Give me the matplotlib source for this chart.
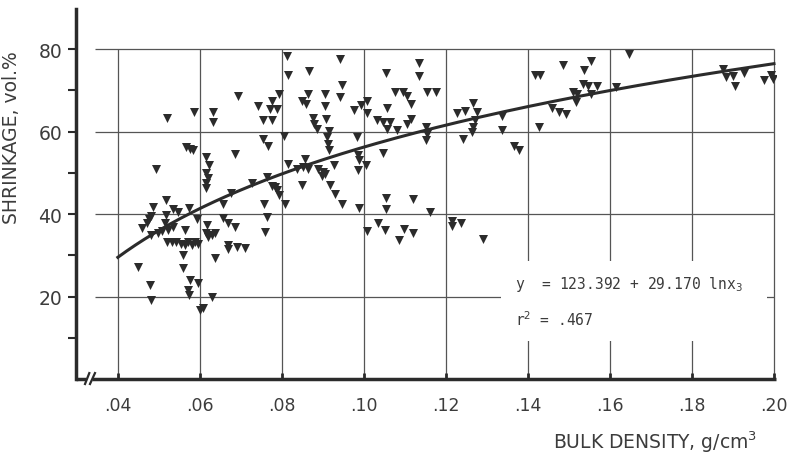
import numpy as np
import matplotlib.pyplot as plt
from matplotlib.patches import Rectangle

plt.rcParams['font.family'] = ['Liberation Sans Narrow', 'DejaVu Sans']
plt.rcParams['mathtext.fontset'] = 'dejavusans'

# bulk density (g/cm3) and shrinkage (vol.%)
density = [
    0.0450, 0.0478, 0.0480, 0.0458, 0.0470, 0.0476, 0.0482, 0.0485, 0.0482, 0.0498,
    0.0507, 0.0515, 0.0517, 0.0517, 0.0523, 0.0535, 0.0535, 0.0547, 0.0574, 0.0563,
    0.0519, 0.0531, 0.0543, 0.0555, 0.0563, 0.0571, 0.0580, 0.0588, 0.0596, 0.0559,
    0.0559, 0.0576, 0.0571, 0.0574, 0.0596, 0.0600, 0.0608, 0.0629, 0.0594, 0.0618,
    0.0616, 0.0629, 0.0637, 0.0620, 0.0637, 0.0669, 0.0690, 0.0710, 0.0669, 0.0657,
    0.0668, 0.0685, 0.0657, 0.0519, 0.0585, 0.0632, 0.0632, 0.0566, 0.0576, 0.0584,
    0.0493, 0.0616, 0.0623, 0.0615, 0.0620, 0.0615, 0.0615, 0.0685, 0.0677,
    0.0693, 0.0742, 0.0775, 0.0772, 0.0787, 0.0793, 0.0754, 0.0775, 0.0813, 0.0815,
    0.0866, 0.0848, 0.0860, 0.0864, 0.0875, 0.0878, 0.0885, 0.0806, 0.0753, 0.0765,
    0.0815, 0.0836, 0.0856, 0.0852, 0.0863, 0.0763, 0.0777, 0.0783, 0.0789, 0.0793,
    0.0848, 0.0726, 0.0756, 0.0807, 0.0764, 0.0759, 0.0905, 0.0905, 0.0907, 0.0915,
    0.0911, 0.0913, 0.0915, 0.0889, 0.0901, 0.0897, 0.0905, 0.0917, 0.0929, 0.0946,
    0.0943, 0.0946, 0.0943, 0.0976, 0.0994, 0.1007, 0.1007, 0.0984, 0.0986, 0.0989,
    0.1005, 0.0986, 0.0927, 0.1046, 0.1135, 0.1135, 0.1055, 0.1076, 0.1096, 0.1106,
    0.1116, 0.1153, 0.1176, 0.1057, 0.1032, 0.1046, 0.1063, 0.1057, 0.1080, 0.1104,
    0.1114, 0.1151, 0.1153, 0.1151, 0.0989, 0.1055, 0.1055, 0.1119, 0.1161, 0.1007,
    0.1035, 0.1051, 0.1098, 0.1086, 0.1120,
    0.1214, 0.1214, 0.1238, 0.1290, 0.1647, 0.1555, 0.1485, 0.1537, 0.1417, 0.1429,
    0.1535, 0.1547, 0.1568, 0.1511, 0.1519, 0.1555, 0.1615, 0.1517, 0.1458, 0.1476,
    0.1494, 0.1228, 0.1246, 0.1267, 0.1275, 0.1271, 0.1265, 0.1263, 0.1336, 0.1242,
    0.1338, 0.1428, 0.1366, 0.1379,
    0.1876, 0.1883, 0.1899, 0.1905, 0.1927, 0.1976, 0.1994, 0.1997,
]
shrinkage = [
    27.2, 22.7, 19.1, 36.5, 37.7, 38.7, 39.5, 41.7, 34.8, 35.3,
    35.8, 37.7, 39.7, 43.3, 36.1, 36.9, 41.3, 40.5, 41.5, 36.1,
    33.2, 33.1, 33.2, 32.8, 32.4, 33.2, 32.6, 33.1, 32.8, 30.0,
    26.8, 24.0, 21.5, 20.3, 23.2, 16.7, 17.1, 19.9, 38.7, 37.4,
    35.3, 35.0, 35.3, 34.5, 29.4, 32.4, 32.0, 31.8, 31.4, 39.1,
    37.9, 36.9, 42.5, 63.2, 64.8, 64.8, 62.3, 56.2, 55.8, 55.6,
    51.0, 53.8, 51.9, 50.0, 48.7, 47.4, 46.3, 54.6, 45.2,
    68.5, 66.3, 67.5, 65.5, 65.5, 69.1, 62.7, 62.7, 78.4, 73.6,
    74.6, 67.5, 66.7, 69.0, 63.3, 61.9, 60.7, 59.0, 58.2, 56.6,
    52.2, 51.0, 53.4, 51.4, 51.0, 49.0, 46.7, 46.5, 45.7, 44.5,
    47.0, 47.5, 42.5, 42.4, 39.3, 35.7, 69.0, 66.3, 63.1, 60.1,
    58.6, 57.0, 55.6, 51.0, 50.2, 49.1, 49.8, 47.0, 44.9, 42.5,
    77.5, 71.3, 68.4, 65.2, 66.4, 67.4, 64.4, 58.7, 54.3, 53.1,
    52.0, 50.7, 52.0, 54.7, 76.7, 73.5, 74.3, 69.6, 69.5, 68.7,
    66.6, 69.5, 69.5, 65.6, 62.8, 62.4, 62.4, 60.6, 60.4, 61.7,
    63.0, 61.2, 59.5, 57.9, 41.4, 44.0, 41.3, 43.7, 40.6, 35.8,
    37.8, 36.2, 36.4, 33.8, 35.4,
    38.4, 37.2, 37.8, 34.0, 78.7, 77.2, 76.1, 74.8, 73.7, 73.7,
    71.6, 71.1, 71.1, 69.6, 69.2, 69.1, 70.9, 67.2, 65.6, 64.8,
    64.2, 64.6, 65.0, 66.8, 64.8, 62.8, 61.0, 59.8, 63.8, 58.1,
    60.3, 61.2, 56.4, 55.5,
    75.1, 73.2, 73.5, 71.1, 74.1, 72.5, 73.6, 72.7,
]

# fitted curve printed on the chart: y = a + b ln(x)
fit_a = 123.392
fit_b = 29.170

x_ticks = [0.04, 0.06, 0.08, 0.10, 0.12, 0.14, 0.16, 0.18, 0.20]
x_tick_labels = ['.04', '.06', '.08', '.10', '.12', '.14', '.16', '.18', '.20']
y_ticks = [20, 40, 60, 80]
y_minor = [10, 30, 50, 70]

ink = '#2b2b2b'
text_col = '#3c3c3c'
grid_col = '#555555'

fig = plt.figure(figsize=(7.87, 4.56), dpi=100)
ax = fig.add_axes([76 / 787, 76 / 456, 700 / 787, 370 / 456])
ax.set_xlim(0.0298, 0.2005)
ax.set_ylim(0, 89.7)

# grid box
ax.hlines(y_ticks, 0.0344, 0.20, color=grid_col, lw=0.9, zorder=1)
ax.vlines(x_ticks, 0, 80, color=grid_col, lw=0.9, zorder=1)
# blank area behind the equation
ax.add_patch(Rectangle((0.1335, 9.3), 0.0647, 19.4, fc='white', ec='none', zorder=1.5))

xs = np.linspace(0.04, 0.20, 300)
ax.plot(xs, fit_a + fit_b * np.log(xs), color=ink, lw=2.2, zorder=3)
ax.scatter(density, shrinkage, marker='v', s=42, color=ink, linewidths=0, zorder=4)

mono = dict(family='DejaVu Sans Mono', fontsize=10.5, color=text_col, va='center')
ax.text(0.1368, 23.2, 'y  = 123.392 + 29.170 lnx$_3$', **mono)
ax.text(0.1368, 14.7, 'r$^2$ = .467', **mono)

# axes: thick left spine, broken bottom axis
for s in ['top', 'right', 'bottom']:
    ax.spines[s].set_visible(False)
ax.spines['left'].set_linewidth(2.5)
ax.spines['left'].set_color(ink)
ax.plot([0, 0.014], [0, 0], transform=ax.transAxes, color=ink, lw=2.5, clip_on=False,
        solid_capstyle='butt')
ax.plot([0.023, 1.0], [0, 0], transform=ax.transAxes, color=ink, lw=2.5, clip_on=False,
        solid_capstyle='butt')
ax.plot([0.0129, 0.0190], [-0.0135, 0.016], transform=ax.transAxes, color=ink, lw=1.6,
        clip_on=False)
ax.plot([0.0200, 0.0271], [-0.0135, 0.016], transform=ax.transAxes, color=ink, lw=1.6,
        clip_on=False)

ax.set_xticks(x_ticks)
ax.set_xticklabels(x_tick_labels)
ax.set_yticks(y_ticks)
ax.set_yticks(y_minor, minor=True)
ax.tick_params(axis='x', direction='in', length=4, width=2, color=ink, pad=12,
               labelsize=12.5, labelcolor=text_col)
ax.tick_params(axis='y', which='both', direction='out', length=6, width=1.5, color=ink,
               pad=4, labelsize=13.5, labelcolor=text_col)

ax.set_ylabel('SHRINKAGE, vol.%', fontsize=13.5, color=text_col)
ax.yaxis.set_label_coords(-0.078, 0.655)
ax.set_xlabel('BULK DENSITY, g/cm$^3$', fontsize=13.5, color=text_col)
ax.xaxis.set_label_coords(0.827, -0.135)

fig.savefig('out.png', dpi=100)
